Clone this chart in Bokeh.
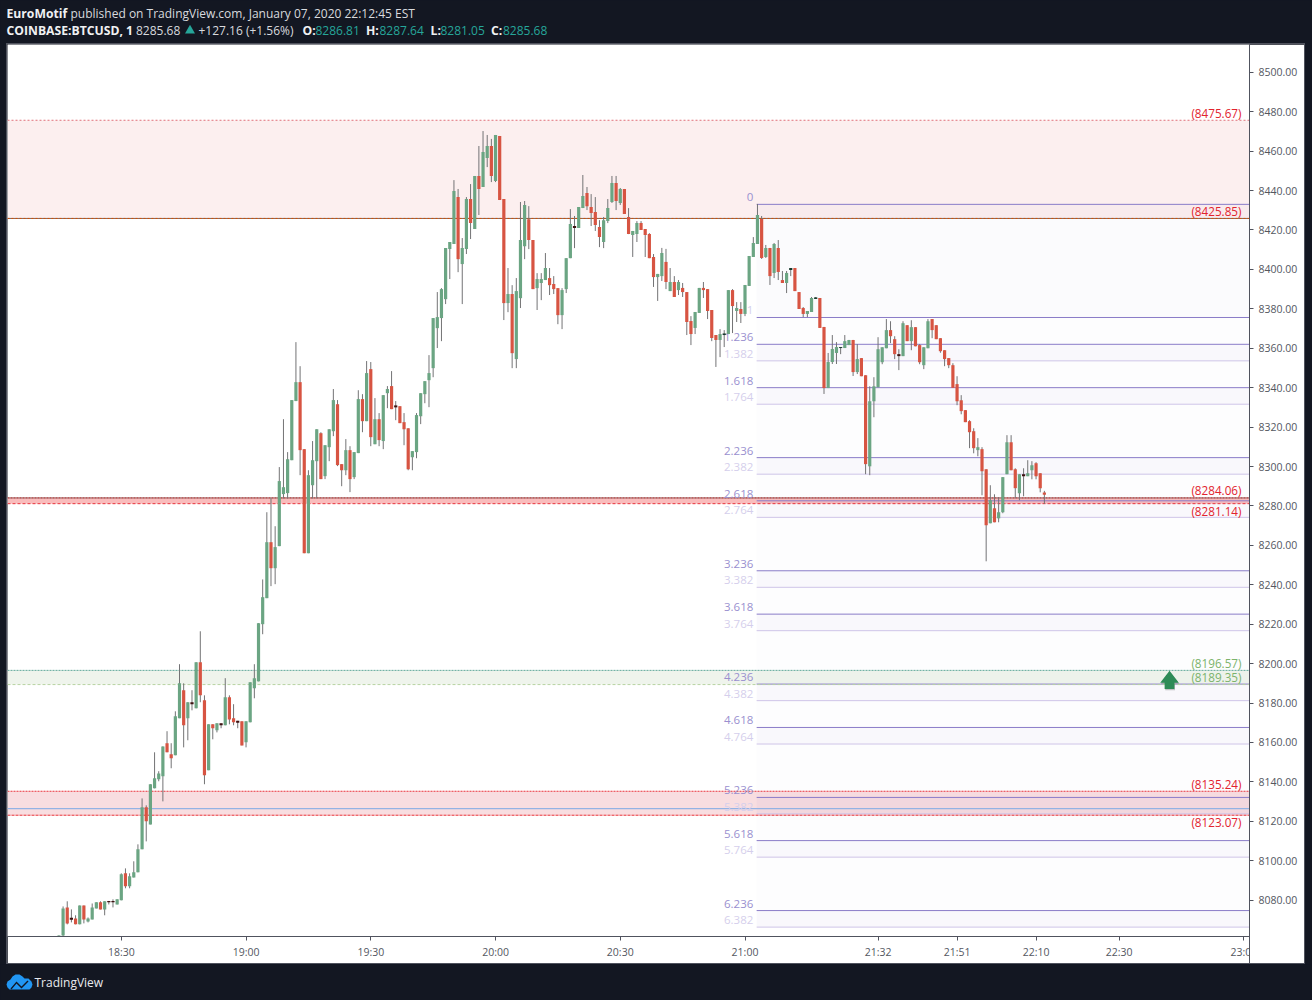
from bokeh.embed import file_html
from bokeh.resources import INLINE
from bokeh.plotting import figure
from bokeh.layouts import column
from bokeh.models import ColumnDataSource, FixedTicker, PrintfTickFormatter, Spacer
from bokeh.core.properties import value

# ---------- data: one-minute candles from 18:15 onwards (minutes after 18:00) ----------
first_minute = 15
opens = [
 8055,8062,8076.3,8071.1,8070.7,8067.7,8077.3,8069.2,8070.2,8075.8,
 8078.9,8075.3,8079.6,8079.6,8077.8,8079.9,8093.6,8087.0,8091.5,8094.1,
 8105.8,8127.1,8118.4,8136.7,8141.3,8142.8,8159.6,8154.0,8153.5,8172.3,
 8186.5,8172.3,8180.4,8177.3,8200.7,8181.4,8145.9,8169.2,8166.2,8169.7,
 8168.7,8182.9,8172.3,8171.0,8170.7,8160.1,8170.2,8187.5,8191.0,8220.0,
 8233.2,8261.6,8248.4,8259.6,8286.0,8286.5,8303.2,8333.2,8342.8,8308.8,
 8256.0,8290.5,8302.7,8316.9,8295.1,8309.8,8317.9,8331.6,8301.2,8298.1,
 8308.3,8294.6,8306.8,8334.2,8323.0,8349.4,8311.3,8324.0,8312.9,8337.2,
 8340.8,8331.0,8330.6,8322.5,8319.4,8304.7,8307.3,8325.5,8336.7,8343.8,
 8349.9,8370.2,8375.3,8384.9,8410.3,8412.9,8436.7,8402.7,8410.3,8435.7,
 8420.5,8447.4,8441.8,8456.5,8462.6,8444.8,8467.7,8435.7,8382.9,8387.5,
 8354.5,8385.4,8411.8,8425.5,8414.9,8390.5,8393.1,8394.6,8395.6,8392.6,
 8390.5,8376.8,8390.0,8405.7,8422.0,8421.0,8431.1,8438.7,8431.6,8429.1,
 8421.5,8413.9,8424.5,8434.2,8443.8,8433.7,8440.8,8426.6,8417.4,8417.9,
 8423.5,8420.5,8417.9,8406.3,8396.1,8396.6,8403.8,8389.0,8393.6,8389.5,
 8390.6,8388.5,8373.8,8370.3,8377.9,8390.6,8390.0,8379.4,8366.7,8364.2,
 8366.7,8367.2,8389.5,8378.9,8379.9,8377.4,8391.6,8406.3,8412.9,8425.6,
 8406.3,8410.9,8398.2,8410.9,8394.6,8393.1,8399.7,8400.7,8388.5,8380.4,
 8377.4,8378.4,8385.0,8385.5,8370.8,8339.8,8353.0,8357.6,8360.1,8360.1,
 8361.6,8364.2,8347.9,8355.0,8346.3,8300.1,8333.1,8340.2,8352.9,8360.0,
 8369.2,8364.6,8357.0,8356.0,8371.7,8363.6,8370.7,8361.6,8351.4,8360.0,
 8374.8,8371.7,8365.1,8359.0,8355.0,8351.4,8341.8,8333.6,8328.6,8323.0,
 8317.9,8308.3,8308.8,8298.6,8271.2,8278.8,8273.7,8276.8,8296.1,8312.3,
 8298.6,8286.4,8296.1,8295.1,8298.1,8301.7,8296.6,8286.81]
highs = [
 8062.1,8076.8,8079.4,8075.3,8072.3,8077.3,8077.3,8071.2,8078.3,8078.9,
 8079.4,8079.4,8079.6,8080.4,8080.4,8093.6,8096.1,8093.6,8099.7,8108.3,
 8131.6,8128.1,8138.8,8155.0,8145.4,8158.0,8165.7,8159.6,8175.8,8199.7,
 8190.0,8180.4,8186.5,8200.7,8216.4,8183.9,8169.2,8169.2,8169.7,8169.7,
 8192.6,8183.9,8179.4,8171.0,8170.7,8170.7,8190.5,8199.7,8220.5,8242.7,
 8276.8,8283.9,8269.7,8299.7,8324.0,8307.3,8333.7,8363.1,8350.9,8308.8,
 8298.1,8312.9,8318.9,8317.4,8310.8,8318.9,8339.3,8333.7,8301.2,8313.9,
 8310.3,8307.3,8338.7,8336.7,8353.5,8353.0,8334.7,8327.1,8336.2,8340.8,
 8348.4,8333.2,8330.6,8327.1,8319.4,8307.8,8327.1,8337.2,8343.3,8356.5,
 8375.3,8388.5,8390.5,8410.8,8413.9,8445.3,8440.8,8415.9,8436.7,8443.3,
 8447.4,8462.6,8470.2,8468.2,8466.2,8468.2,8467.7,8435.7,8400.7,8392.0,
 8395.6,8434.2,8434.7,8432.1,8414.9,8398.1,8398.1,8408.3,8400.7,8396.6,
 8390.5,8390.5,8405.7,8430.6,8427.1,8431.6,8447.9,8441.8,8438.2,8436.7,
 8425.0,8426.6,8435.7,8447.4,8447.4,8441.3,8440.8,8431.1,8419.5,8424.5,
 8424.5,8420.5,8418.4,8407.8,8397.7,8410.9,8410.4,8400.7,8396.6,8394.6,
 8393.1,8388.5,8376.3,8378.4,8390.6,8393.6,8390.0,8379.4,8366.7,8369.7,
 8369.2,8389.5,8390.0,8383.4,8383.4,8392.1,8406.8,8416.4,8433.2,8427.1,
 8412.4,8410.9,8413.4,8414.9,8399.2,8399.2,8400.7,8400.7,8388.5,8380.9,
 8378.9,8386.0,8386.0,8385.5,8370.8,8357.6,8366.7,8363.1,8360.6,8366.7,
 8364.2,8364.2,8362.1,8355.0,8346.3,8340.7,8345.3,8365.6,8360.5,8374.8,
 8373.7,8366.1,8359.5,8373.7,8371.7,8374.2,8370.7,8362.1,8360.5,8374.8,
 8374.8,8371.7,8365.1,8359.0,8355.0,8352.4,8345.8,8336.2,8328.6,8323.5,
 8319.4,8314.4,8309.8,8298.6,8290.5,8285.9,8284.4,8294.6,8315.9,8315.9,
 8299.1,8296.1,8299.1,8303.2,8302.7,8302.2,8296.6,8287.64]
lows = [
 8055,8061,8067.7,8068.7,8067.7,8067.7,8068.2,8068.7,8070.2,8075.8,
 8075.3,8072.3,8077.8,8076.3,8077.8,8079.9,8086.0,8086.0,8091.5,8094.1,
 8105.8,8109.8,8118.4,8136.7,8140.3,8130.1,8155.0,8146.9,8153.5,8172.3,
 8157.5,8161.1,8176.3,8177.3,8180.4,8138.8,8145.9,8161.6,8165.1,8167.2,
 8168.7,8169.2,8168.7,8167.2,8158.5,8157.5,8170.2,8182.4,8191.0,8214.9,
 8233.2,8239.3,8240.3,8259.6,8283.8,8283.8,8303.2,8333.2,8295.6,8256.0,
 8256.0,8283.8,8283.8,8293.6,8293.6,8302.7,8315.4,8300.2,8290.0,8295.6,
 8287.0,8293.6,8306.8,8317.4,8323.0,8310.3,8311.3,8310.3,8308.8,8329.6,
 8329.1,8323.5,8322.0,8310.8,8298.1,8298.1,8304.2,8321.5,8332.1,8330.1,
 8345.3,8360.1,8363.6,8382.4,8395.1,8412.9,8398.6,8382.4,8407.8,8415.4,
 8420.5,8427.6,8441.8,8451.9,8444.3,8444.3,8435.2,8374.3,8378.3,8349.9,
 8349.9,8380.4,8405.2,8410.3,8390.0,8379.4,8384.4,8394.6,8387.0,8387.5,
 8372.2,8369.7,8388.0,8405.7,8410.8,8421.0,8431.1,8430.1,8422.0,8419.5,
 8411.3,8410.8,8423.5,8433.7,8430.1,8432.7,8428.1,8417.9,8406.3,8413.9,
 8420.0,8406.3,8405.7,8391.1,8384.0,8394.1,8390.0,8389.0,8386.0,8387.0,
 8386.0,8366.7,8361.6,8367.2,8377.9,8385.5,8374.8,8363.6,8350.5,8355.5,
 8360.6,8367.2,8367.7,8373.3,8372.8,8376.3,8391.6,8406.3,8412.9,8405.3,
 8405.8,8392.1,8395.6,8394.6,8393.1,8388.0,8396.6,8389.0,8379.9,8375.8,
 8375.8,8378.4,8385.0,8370.3,8336.8,8339.8,8352.0,8352.0,8357.0,8360.1,
 8361.6,8345.9,8346.9,8345.8,8296.1,8295.6,8325.0,8340.2,8351.9,8360.0,
 8362.6,8354.5,8348.9,8356.0,8363.6,8359.0,8361.0,8351.9,8349.4,8360.0,
 8365.1,8364.6,8357.7,8350.9,8349.9,8339.9,8331.1,8326.5,8322.5,8309.3,
 8306.7,8305.2,8285.4,8251.9,8271.2,8271.7,8271.7,8276.3,8296.1,8298.1,
 8283.9,8282.9,8284.9,8295.1,8293.5,8293.5,8286.9,8281.05]
closes = [
 8062.1,8075.8,8068.2,8070.1,8067.7,8077.3,8070.2,8070.7,8076.3,8078.9,
 8075.3,8079.4,8078.9,8078.9,8080.4,8093.1,8087.0,8092.1,8094.1,8105.8,
 8127.1,8120.0,8138.8,8141.8,8144.3,8158.0,8155.0,8152.0,8173.3,8190.0,
 8168.7,8180.4,8179.4,8200.7,8183.9,8143.3,8169.2,8167.2,8169.7,8168.7,
 8182.9,8171.7,8170.2,8170.0,8158.5,8170.7,8190.5,8192.6,8220.5,8233.7,
 8261.6,8248.4,8259.1,8292.6,8289.5,8303.7,8333.7,8342.8,8308.3,8256.0,
 8295.6,8303.2,8318.9,8293.6,8310.8,8318.9,8333.7,8300.7,8298.1,8308.3,
 8293.6,8307.3,8334.2,8323.0,8347.4,8314.9,8324.0,8313.4,8336.2,8339.3,
 8329.1,8330.0,8322.0,8318.9,8298.6,8307.8,8326.1,8337.2,8343.3,8347.4,
 8375.3,8375.8,8390.0,8410.8,8413.9,8439.8,8405.2,8410.8,8435.7,8423.5,
 8447.4,8440.8,8459.6,8462.6,8447.4,8468.2,8435.2,8382.9,8387.5,8357.5,
 8389.0,8414.9,8432.7,8414.9,8390.0,8395.1,8395.1,8400.7,8392.0,8390.0,
 8376.8,8389.5,8405.7,8423.0,8421.0,8431.6,8437.2,8432.1,8428.6,8422.5,
 8416.4,8425.0,8431.1,8443.8,8434.7,8440.8,8428.1,8417.9,8419.5,8423.5,
 8420.0,8417.4,8405.7,8396.1,8397.7,8408.3,8393.6,8393.6,8386.0,8393.6,
 8388.5,8373.3,8367.2,8378.4,8390.6,8389.5,8378.9,8365.2,8364.2,8367.2,
 8367.5,8389.5,8381.4,8380.4,8377.4,8392.1,8406.8,8413.4,8427.6,8405.8,
 8410.9,8396.6,8412.9,8398.7,8393.1,8398.2,8400.7,8389.0,8379.9,8377.4,
 8378.9,8385.5,8385.8,8370.3,8339.8,8353.0,8359.6,8360.6,8360.6,8363.6,
 8364.2,8347.9,8354.5,8345.8,8301.2,8333.1,8340.7,8359.5,8360.5,8369.2,
 8366.1,8357.0,8356.0,8372.7,8363.6,8370.7,8361.0,8352.9,8360.5,8373.7,
 8369.2,8364.6,8358.5,8354.5,8351.4,8339.9,8333.1,8328.1,8322.5,8317.4,
 8309.3,8309.8,8297.6,8270.2,8282.9,8271.7,8276.8,8294.6,8312.3,8298.1,
 8289.0,8296.1,8295.1,8296.6,8300.6,8295.1,8289.0,8285.68]

# fibonacci extension levels
fib_ratios = ["0","1","1.236","1.382","1.618","1.764","2.236","2.382","2.618","2.764",
              "3.236","3.382","3.618","3.764","4.236","4.382","4.618","4.764",
              "5.236","5.382","5.618","5.764","6.236","6.382"]
fib_prices = [8433.0,8375.6,8362.0,8353.6,8340.0,8331.6,8304.5,8296.1,8282.6,8274.2,
              8247.1,8238.7,8225.1,8216.7,8189.6,8181.2,8167.6,8159.2,
              8132.1,8123.8,8110.2,8101.8,8074.7,8066.3]
fib_start_minute = 182.8

# horizontal zones drawn by hand: upper, lower
zone_tops = [8475.67, 8284.06, 8196.57, 8135.24]
zone_bottoms = [8425.85, 8281.14, 8189.35, 8123.07]
blue_level = 8126.4

price_ticks = list(range(8080, 8501, 20))
time_tick_minutes = [30, 60, 90, 120, 150, 180, 212, 231, 250, 270, 300]
time_tick_labels = ["18:30","19:00","19:30","20:00","20:30","21:00","21:32","21:51","22:10","22:30","23:00"]

arrow_minute = 282.1
arrow_tip_price = 8196.4

# header texts
header_bold = ["EuroMotif", "COINBASE:BTCUSD, 1", "O:", "H:", "L:", "C:"]
header_bold_x = [6, 6, 302, 365.5, 430, 490.6]
header_bold_y = [13, 30, 30, 30, 30, 30]
header_plain = ["published on TradingView.com, January 07, 2020 22:12:45 EST", "8285.68", "+127.16 (+1.56%)"]
header_plain_x = [70, 135.5, 198]
header_plain_y = [13, 30, 30]
header_values = ["8286.81", "8287.64", "8281.05", "8285.68"]
header_values_x = [315, 379, 440, 502.5]

# ---------- styles ----------
DARK = "#131722"
UP, DOWN, WICK = "#6ba583", "#d75442", "#737375"
UP_DOJI, DOWN_DOJI = "#17392b", "#3d1110"
FIB_STRONG, FIB_PALE = "#8a7cc8", "#cfc5e8"
FIB_TEXT_STRONG, FIB_TEXT_PALE = "#9a90cf", "#d5cfec"
FONT = "Open Sans"
AX = "#50535e"
TEAL = "#26a69a"

WIDTH, HEIGHT = 1312, 1000
LEFT, RIGHT, TOP, BOTTOM, PANEL_RIGHT, PANEL_BOTTOM = 7, 1249, 44, 936, 1304, 963
PX_PER_MIN = 4.158
PX_PER_PRICE = 1.971
x_of_left = 30 - (120.8 - LEFT) / PX_PER_MIN
x_of_right = 30 + (RIGHT - 120.8) / PX_PER_MIN
y_top = 8500 + (71.8 - TOP) / PX_PER_PRICE
y_bottom = 8500 - (BOTTOM - 71.8) / PX_PER_PRICE

p = figure(width=PANEL_RIGHT - LEFT, height=PANEL_BOTTOM - TOP, output_backend="svg", toolbar_location=None,
           x_range=(x_of_left, x_of_right), y_range=(y_bottom, y_top),
           y_axis_location="right", tools="",
           min_border_left=0, min_border_right=PANEL_RIGHT - RIGHT,
           min_border_top=0, min_border_bottom=PANEL_BOTTOM - BOTTOM)
p.styles = {"position": "absolute", "left": f"{LEFT}px", "top": f"{TOP}px",
            "box-shadow": f"0 0 0 1px {AX}"}
p.border_fill_color = "white"
p.background_fill_color = "white"
p.outline_line_color = None
p.grid.visible = False

# axes
for ax in (p.xaxis[0], p.yaxis[0]):
    ax.axis_line_color = AX
    ax.major_tick_line_color = AX
    ax.major_tick_out = 4
    ax.major_tick_in = 0
    ax.minor_tick_line_color = None
    ax.major_label_text_color = "#54575f"
    ax.major_label_text_font = FONT
    ax.major_label_text_font_size = "10.5px"
p.yaxis[0].ticker = FixedTicker(ticks=price_ticks)
p.yaxis[0].formatter = PrintfTickFormatter(format="%.2f")
p.yaxis[0].major_label_standoff = 5
p.xaxis[0].ticker = FixedTicker(ticks=time_tick_minutes)
p.xaxis[0].major_label_overrides = dict(zip(time_tick_minutes, time_tick_labels))
p.xaxis[0].major_label_standoff = 4

# zones
zone_fills = ["#fcefef", "#f9bcbc", "#eff4ec", "#f8dde0"]
p.quad(left=x_of_left, right=x_of_right, top=zone_tops, bottom=zone_bottoms,
       fill_color=zone_fills, line_color=None)

# fib background + bands
p.quad(left=fib_start_minute, right=x_of_right, top=fib_prices[0], bottom=fib_prices[-1],
       fill_color="#7e62c4", fill_alpha=0.012, line_color=None)
p.quad(left=fib_start_minute, right=x_of_right, top=fib_prices[0], bottom=fib_prices[1],
       fill_color="#7e62c4", fill_alpha=0.015, line_color=None)
band_tops = fib_prices[2::2]
band_bottoms = fib_prices[3::2]
p.quad(left=fib_start_minute, right=x_of_right, top=band_tops, bottom=band_bottoms,
       fill_color="#7e62c4", fill_alpha=0.032, line_color=None)

pale = [r.endswith(".382") or r.endswith(".764") for r in fib_ratios]
p.segment(x0=fib_start_minute, x1=x_of_right, y0=fib_prices, y1=fib_prices,
          line_color=[FIB_PALE if q else FIB_STRONG for q in pale], line_width=1)

# zone edge lines
def hline(price, color, dash="solid", width=1, alpha=1.0):
    p.segment(x0=x_of_left, x1=x_of_right, y0=price, y1=price, line_color=color,
              line_dash=dash, line_width=width, line_alpha=alpha)

hline(zone_tops[0], "#e0707a", "2 2")
hline(zone_bottoms[0], "#77675e", "solid")
hline(zone_bottoms[0], "#d84f00", "2 2")
hline(zone_tops[1], "#888888", "solid")
hline(zone_tops[1], "#c62828", "2 1")
hline(zone_bottoms[1], "#e8323a", "3 2")
hline(zone_tops[2], "#5fa89a", "2 1")
hline(zone_bottoms[2], "#b7d3a1", "3 2")
hline(zone_tops[3], "#e8323a", "2 1")
hline(zone_bottoms[3], "#e8323a", "3 1")
hline(blue_level, "#93b2e4", "solid", 1.4)

# fib labels
fib_text_colors = [FIB_TEXT_PALE if (q or r == "1") else FIB_TEXT_STRONG for q, r in zip(pale, fib_ratios)]
p.text(x=[182.0] * len(fib_prices), y=fib_prices, text=fib_ratios, text_align="right",
       text_baseline="middle", y_offset=-7, text_color=fib_text_colors,
       text_font=value(FONT), text_font_size="11.5px")

# candles
n = len(opens)
minutes = [first_minute + i for i in range(n)]
body_colors = []
for o, c in zip(opens, closes):
    up = c >= o
    if abs(o - c) <= 1.05:
        body_colors.append(UP_DOJI if up else DOWN_DOJI)
    else:
        body_colors.append(UP if up else DOWN)
src = ColumnDataSource(dict(x=minutes, o=opens, h=highs, l=lows, c=closes,
                            top=[max(a, b) for a, b in zip(opens, closes)],
                            bottom=[min(a, b) for a, b in zip(opens, closes)], color=body_colors))
p.segment(x0="x", x1="x", y0="h", y1="l", source=src, line_color=WICK, line_width=1)
p.vbar(x="x", width=3.2 / PX_PER_MIN, top="top", bottom="bottom", source=src,
       fill_color="color", line_color=None)

# right-hand labels
red_lab, green_lab = "#e2232e", "#7cb36b"
lab_prices = zone_tops[:1] + zone_bottoms[:1] + zone_tops[1:2] + zone_bottoms[1:2] + zone_tops[2:3] + zone_bottoms[2:3] + zone_tops[3:] + zone_bottoms[3:]
lab_offsets = [-7.5, -7, -7.5, 7, -7.5, -7.5, -7.5, 7]
lab_colors = [red_lab, red_lab, red_lab, red_lab, green_lab, green_lab, red_lab, red_lab]
for pr, off, col in zip(lab_prices, lab_offsets, lab_colors):
    p.text(x=[299.4], y=[pr], text=[f"({pr:.2f})"], text_align="right", text_baseline="middle",
           y_offset=off, text_color=col, text_font=value(FONT), text_font_size="11.7px")

# arrow icon
dxp, dyp = 1 / PX_PER_MIN, 1 / PX_PER_PRICE
def arrow(shift_x, shift_y):
    xs = [0, 9.3, 4.9, 4.9, -4.9, -4.9, -9.3]
    ys = [0, 12, 12, 18.3, 18.3, 12, 12]
    return ([arrow_minute + (v + shift_x) * dxp for v in xs],
            [arrow_tip_price - (v + shift_y) * dyp for v in ys])
sx, sy = arrow(0.6, 1.2)
p.patch(sx, sy, fill_color="#808080", fill_alpha=0.45, line_color=None)
ax_, ay_ = arrow(0, 0)
p.patch(ax_, ay_, fill_color="#2e8b57", line_color=None)


def bare(fig_w, y0, y1):
    f = figure(frame_width=fig_w, frame_height=y1 - y0, output_backend="svg", toolbar_location=None, tools="",
               x_range=(0, fig_w), y_range=(y1, y0),
               min_border=0, min_border_left=0, min_border_right=0, min_border_top=0, min_border_bottom=0,
               x_axis_type=None, y_axis_type=None)
    f.background_fill_color = DARK
    f.border_fill_color = DARK
    f.outline_line_color = None
    f.grid.visible = False
    f.styles = {"position": "absolute", "left": "0px", "top": f"{y0}px"}
    return f


# header
head = bare(WIDTH, 0, TOP - 1)
head.text(x=header_bold_x, y=header_bold_y, text=header_bold, text_color="#f0f1f3", text_baseline="middle",
          text_font=value(FONT), text_font_size="12.2px", text_font_style="bold")
head.text(x=header_plain_x, y=header_plain_y, text=header_plain, text_color="#d8dade", text_baseline="middle",
          text_font=value(FONT), text_font_size="12px")
head.text(x=header_values_x, y=[30] * 4, text=header_values, text_color=TEAL, text_baseline="middle",
          text_font=value(FONT), text_font_size="12px")
head.scatter(x=[189.5], y=[30], marker="triangle", size=10, fill_color=TEAL, line_color=None)

# footer with TradingView logo
foot = bare(WIDTH, PANEL_BOTTOM + 1, HEIGHT)
foot.text(x=[34], y=[982], text=["TradingView"], text_color="#e8eaee", text_baseline="middle",
          text_font=value(FONT), text_font_size="12px")
cloud_x = [6, 7, 10, 12, 15, 19, 22, 24, 28, 31, 32, 31, 29, 9, 7]
cloud_y = [984, 981, 979, 976, 974, 974, 976, 978, 978, 981, 984, 987, 989, 989, 987]
foot.patch(cloud_x, cloud_y, fill_color="#2196f3", line_color=None)
zig_x = [10, 16, 21, 27, 28, 21, 16, 11]
zig_y = [988, 981, 986, 980, 981, 988, 983, 989]
foot.patch(zig_x, zig_y, fill_color=DARK, line_color=None)

# cover that cuts the last time label at the price scale, as in the original
cover = Spacer(width=PANEL_RIGHT - RIGHT - 1, height=PANEL_BOTTOM - BOTTOM - 1,
               styles={"position": "absolute", "left": f"{RIGHT + 1}px", "top": f"{BOTTOM + 1}px",
                       "background": "white"})
scale_line = Spacer(width=1, height=PANEL_BOTTOM - BOTTOM,
                    styles={"position": "absolute", "left": f"{RIGHT}px", "top": f"{BOTTOM}px",
                            "background": AX})

root = column(head, p, foot, cover, scale_line, width=WIDTH, height=HEIGHT,
              styles={"position": "fixed", "left": "0px", "top": "0px", "background": DARK,
                      "width": f"{WIDTH}px", "height": f"{HEIGHT}px"})

open("out.html", "w").write(file_html(root, INLINE))
